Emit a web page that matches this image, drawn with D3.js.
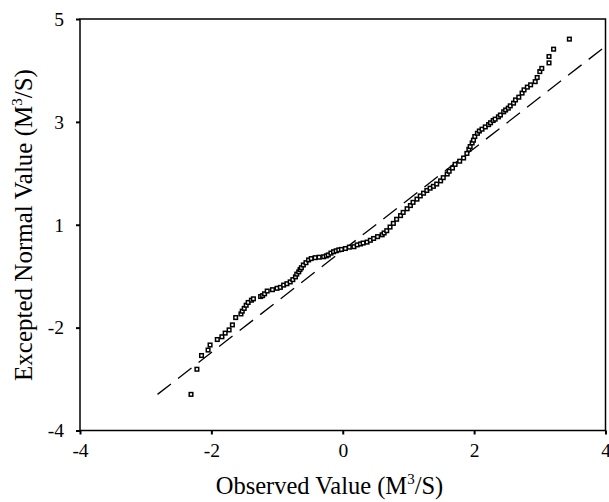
<html>

    <head>
        <title>Normal Q-Q Plot</title>
        <style>
            body { margin: 0; background: #fff; }
            text { font-family: "Liberation Serif", "Times New Roman", serif; fill: #000; }
        </style>
    </head>

    <body>
        <div id="viz"></div>

        <script src="https://d3js.org/d3.v7.min.js"></script>
        <script>

            var observed = [-2.31, -2.22, -2.15, -2.05, -2.02, -1.91, -1.84, -1.79, -1.73, -1.68,
                -1.63, -1.55, -1.53, -1.50, -1.47, -1.44, -1.39, -1.36, -1.25, -1.22,
                -1.19, -1.15, -1.07, -1.00, -0.95, -0.90, -0.85, -0.80, -0.76, -0.72,
                -0.70, -0.67, -0.65, -0.63, -0.60, -0.56, -0.52, -0.48, -0.42, -0.36,
                -0.29, -0.25, -0.22, -0.18, -0.14, -0.10, -0.06, -0.02, 0.04, 0.10,
                0.17, 0.22, 0.27, 0.31, 0.37, 0.42, 0.47, 0.53, 0.60, 0.63,
                0.67, 0.72, 0.77, 0.82, 0.88, 0.92, 0.98, 1.03, 1.07, 1.13,
                1.18, 1.23, 1.28, 1.33, 1.38, 1.43, 1.49, 1.53, 1.59, 1.62,
                1.67, 1.71, 1.78, 1.84, 1.89, 1.92, 1.94, 1.97, 1.99, 2.01,
                2.05, 2.08, 2.12, 2.17, 2.22, 2.25, 2.29, 2.32, 2.37, 2.40,
                2.45, 2.48, 2.52, 2.55, 2.60, 2.63, 2.68, 2.73, 2.76, 2.81,
                2.86, 2.93, 2.96, 3.00, 3.03, 3.14, 3.14, 3.21, 3.45];

            var expected = [-3.21, -2.66, -2.36, -2.24, -2.13, -2.01, -1.95, -1.87, -1.80, -1.69,
                -1.53, -1.45, -1.39, -1.33, -1.26, -1.20, -1.15, -1.12, -1.07, -1.05,
                -1.01, -0.95, -0.92, -0.89, -0.87, -0.82, -0.79, -0.75, -0.70, -0.64,
                -0.58, -0.53, -0.48, -0.44, -0.38, -0.33, -0.27, -0.24, -0.22, -0.21,
                -0.20, -0.18, -0.16, -0.12, -0.09, -0.07, -0.05, -0.04, -0.02, 0.01,
                0.02, 0.06, 0.08, 0.10, 0.12, 0.16, 0.20, 0.24, 0.28, 0.32,
                0.37, 0.45, 0.53, 0.62, 0.70, 0.77, 0.85, 0.92, 0.99, 1.06,
                1.13, 1.19, 1.25, 1.30, 1.34, 1.39, 1.46, 1.53, 1.61, 1.67,
                1.74, 1.82, 1.89, 1.96, 2.06, 2.15, 2.21, 2.29, 2.35, 2.43,
                2.50, 2.55, 2.59, 2.64, 2.69, 2.73, 2.78, 2.81, 2.86, 2.90,
                2.97, 3.01, 3.05, 3.10, 3.16, 3.23, 3.29, 3.38, 3.45, 3.51,
                3.56, 3.63, 3.72, 3.85, 3.92, 4.04, 4.18, 4.34, 4.56];

            // reference line end points
            var lineX = [-2.82, 3.97];
            var lineY = [-3.21, 4.37];

            var xTicks = [-4, -2, 0, 2, 4];
            var yTicks = [-4, -1.75, 0.5, 2.75, 5];

            var width = 609;
            var height = 502;
            var mLeft = 80, mRight = 605.5, mTop = 19, mBottom = 430.5;

            var svg = d3.select("#viz")
                .append('svg')
                .attr('height', height)
                .attr('width', width);

            var x = d3.scaleLinear().domain([-4, 4]).range([mLeft, mRight]);
            var y = d3.scaleLinear().domain([-4, 5]).range([mBottom, mTop]);

            // frame
            svg.append('rect')
                .attr('x', mLeft)
                .attr('y', mTop)
                .attr('width', mRight - mLeft)
                .attr('height', mBottom - mTop)
                .attr('fill', 'none')
                .attr('stroke', '#000')
                .attr('stroke-width', 1.5);

            var xAxis = svg.append('g')
                .attr('transform', 'translate(0,' + mBottom + ')')
                .call(d3.axisBottom(x).tickValues(xTicks).tickSize(4).tickPadding(9)
                    .tickFormat(function (d) { return d; }));

            var yAxis = svg.append('g')
                .attr('transform', 'translate(' + mLeft + ',0)')
                .call(d3.axisLeft(y).tickValues(yTicks).tickSize(4).tickPadding(12)
                    .tickFormat(function (d) { return Math.round(d); }));

            [xAxis, yAxis].forEach(function (g) {
                g.select('.domain').remove();
                g.selectAll('.tick line').attr('stroke', '#000').attr('stroke-width', 2);
                g.selectAll('.tick text')
                    .attr('font-size', 19.5)
                    .attr('font-family', '"Liberation Serif", "Times New Roman", serif');
            });

            // fitted line
            svg.append('line')
                .attr('x1', x(lineX[0]))
                .attr('y1', y(lineY[0]))
                .attr('x2', x(lineX[1]))
                .attr('y2', y(lineY[1]))
                .attr('stroke', '#000')
                .attr('stroke-width', 1.3)
                .attr('stroke-dasharray', '17,9');

            var pts = observed.map(function (d, i) {
                return { x: d, y: expected[i] };
            });

            var s = 3.6;
            svg.selectAll('rect.pt')
                .data(pts)
                .enter()
                .append('rect')
                .attr('class', 'pt')
                .attr('x', function (d) { return x(d.x) - s / 2; })
                .attr('y', function (d) { return y(d.y) - s / 2; })
                .attr('width', s)
                .attr('height', s)
                .attr('fill', '#fff')
                .attr('stroke', '#000')
                .attr('stroke-width', 1.5);

            // axis titles
            var xt = svg.append('text')
                .attr('x', 329.5)
                .attr('y', 494)
                .attr('text-anchor', 'middle')
                .attr('font-size', 24.5);
            xt.append('tspan').text('Observed Value (M');
            xt.append('tspan').attr('font-size', 15).attr('dy', -10).text('3');
            xt.append('tspan').attr('dy', 10).text('/S)');

            var yt = svg.append('text')
                .attr('transform', 'translate(32,225) rotate(-90)')
                .attr('text-anchor', 'middle')
                .attr('font-size', 25);
            yt.append('tspan').text('Excepted Normal Value (M');
            yt.append('tspan').attr('font-size', 15).attr('dy', -10).text('3');
            yt.append('tspan').attr('dy', 10).text('/S)');

        </script>
    </body>

</html>
